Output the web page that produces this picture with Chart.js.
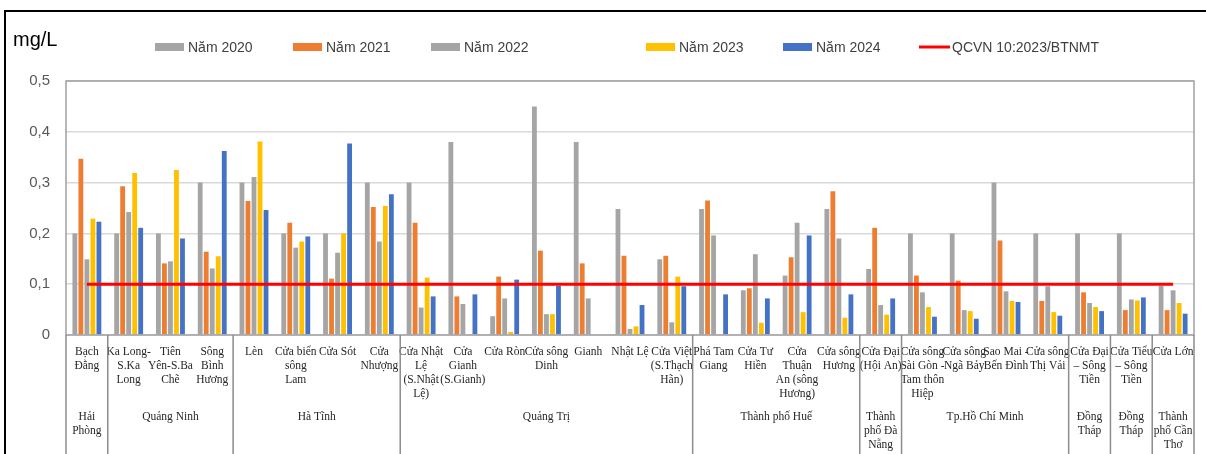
<!DOCTYPE html>
<html>
<head>
<meta charset="utf-8">
<script src="https://cdn.jsdelivr.net/npm/chart.js@4"></script>
<style>
  html, body { margin: 0; padding: 0; background: #fff; }
  #khung { width: 1206px; height: 454px; position: relative; }
</style>
</head>
<body>
<div id="khung"><canvas id="bieuDo" width="1206" height="454"></canvas></div>
<script>
// --- DU LIEU ---
var tramQuanTrac = [
    ['Bạch', 'Đằng'],
    ['Ka Long-', 'S.Ka', 'Long'],
    ['Tiên', 'Yên-S.Ba', 'Chẽ'],
    ['Sông', 'Bình', 'Hương'],
    ['Lèn'],
    ['Cửa biển', 'sông', 'Lam'],
    ['Cửa Sót'],
    ['Cửa', 'Nhượng'],
    ['Cửa Nhật', 'Lệ', '(S.Nhật', 'Lệ)'],
    ['Cửa', 'Gianh', '(S.Gianh)'],
    ['Cửa Ròn'],
    ['Cửa sông', 'Dinh'],
    ['Gianh'],
    ['Nhật Lệ'],
    ['Cửa Việt', '(S.Thạch', 'Hãn)'],
    ['Phá Tam', 'Giang'],
    ['Cửa Tư', 'Hiền'],
    ['Cửa', 'Thuận', 'An (sông', 'Hương)'],
    ['Cửa sông', 'Hương'],
    ['Cửa Đại', '(Hội An)'],
    ['Cửa sông', 'Sài Gòn -', 'Tam thôn', 'Hiệp'],
    ['Cửa sông', 'Ngã Bảy'],
    ['Sao Mai -', 'Bến Đình'],
    ['Cửa sông', 'Thị Vải'],
    ['Cửa Đại', '– Sông', 'Tiền'],
    ['Cửa Tiểu', '– Sông', 'Tiền'],
    ['Cửa Lớn']
];

// tinh/thanh pho va so tram cua moi nhom
var tenTinh = [
    ['Hải', 'Phòng'],
    ['Quảng Ninh'],
    ['Hà Tĩnh'],
    ['Quảng Trị'],
    ['Thành phố Huế'],
    ['Thành', 'phố Đà', 'Nẵng'],
    ['Tp.Hồ Chí Minh'],
    ['Đồng', 'Tháp'],
    ['Đồng', 'Tháp'],
    ['Thành', 'phố Cần', 'Thơ']
];
var soTramMoiTinh = [1, 3, 4, 7, 4, 1, 4, 1, 1, 1];

var tenNam = ['Năm 2020', 'Năm 2021', 'Năm 2022', 'Năm 2023', 'Năm 2024'];
var tenQuyChuan = 'QCVN 10:2023/BTNMT';

var nam2020 = [0.2, 0.2, 0.2, 0.3, 0.3, 0.2, 0.2, 0.3, 0.3, 0.38, 0.037, 0.45, 0.38, 0.248, 0.149,
    0.248, 0.088, 0.117, 0.248, 0.13, 0.2, 0.2, 0.3, 0.2, 0.2, 0.2, 0.097];
var nam2021 = [0.347, 0.293, 0.141, 0.164, 0.264, 0.221, 0.111, 0.252, 0.221, 0.076, 0.115, 0.166, 0.141, 0.156, 0.156,
    0.265, 0.092, 0.153, 0.283, 0.211, 0.117, 0.107, 0.186, 0.067, 0.084, 0.049, 0.049];
var nam2022 = [0.149, 0.242, 0.145, 0.131, 0.311, 0.172, 0.162, 0.184, 0.054, 0.061, 0.072, 0.041, 0.072, 0.012, 0.025,
    0.196, 0.159, 0.221, 0.19, 0.059, 0.084, 0.049, 0.086, 0.096, 0.063, 0.07, 0.088];
var nam2023 = [0.229, 0.319, 0.325, 0.155, 0.381, 0.184, 0.2, 0.254, 0.113, 0, 0.006, 0.041, 0, 0.017, 0.115,
    0, 0.024, 0.045, 0.034, 0.04, 0.055, 0.047, 0.067, 0.045, 0.055, 0.068, 0.063];
var nam2024 = [0.223, 0.211, 0.19, 0.362, 0.246, 0.194, 0.377, 0.277, 0.076, 0.08, 0.109, 0.097, 0, 0.059, 0.096,
    0.08, 0.072, 0.196, 0.08, 0.072, 0.036, 0.032, 0.065, 0.038, 0.047, 0.074, 0.042];
var quyChuan = [0.1, 0.1, 0.1, 0.1, 0.1, 0.1, 0.1, 0.1, 0.1, 0.1, 0.1, 0.1, 0.1, 0.1, 0.1,
    0.1, 0.1, 0.1, 0.1, 0.1, 0.1, 0.1, 0.1, 0.1, 0.1, 0.1, 0.1];

var nhanTrucY = ['0', '0,1', '0,2', '0,3', '0,4', '0,5'];

var mauCot = ['#a5a5a5', '#ed7d31', '#a5a5a5', '#ffc000', '#4472c4'];
var mauQuyChuan = '#ff0000';

// --- PLUGIN: khung, chu thich, nhom tinh ---
var pluginTrangTri = {
    id: 'trangTri',
    afterDraw: function(chart) {
        var ctx = chart.ctx;
        var vung = chart.chartArea;
        var x = chart.scales.x;
        var caoCanvas = chart.height;
        ctx.save();

        // khung vung ve
        ctx.strokeStyle = '#a0a0a0';
        ctx.lineWidth = 1.5;
        ctx.strokeRect(vung.left, vung.top, vung.right - vung.left, vung.bottom - vung.top);

        // duong ngan cach cac tinh
        var ranhGioi = [vung.left];
        var dem = 0;
        soTramMoiTinh.forEach(function(n) {
            dem += n;
            if (dem >= tramQuanTrac.length) {
                ranhGioi.push(vung.right);
            } else {
                ranhGioi.push((x.getPixelForValue(dem - 1) + x.getPixelForValue(dem)) / 2);
            }
        });
        ctx.strokeStyle = '#8c8c8c';
        ctx.lineWidth = 1.5;
        ranhGioi.forEach(function(px) {
            ctx.beginPath();
            ctx.moveTo(px, vung.bottom);
            ctx.lineTo(px, caoCanvas);
            ctx.stroke();
        });

        // ten tinh
        ctx.fillStyle = '#262626';
        ctx.font = '11.5px "Liberation Serif", "Times New Roman", serif';
        ctx.textAlign = 'center';
        ctx.textBaseline = 'middle';
        tenTinh.forEach(function(dong, i) {
            var giua = (ranhGioi[i] + ranhGioi[i + 1]) / 2;
            dong.forEach(function(chu, j) {
                ctx.fillText(chu, giua, 417 + j * 14);
            });
        });

        // khung ngoai mau den
        ctx.strokeStyle = '#000';
        ctx.lineWidth = 2;
        ctx.beginPath();
        ctx.moveTo(5, caoCanvas);
        ctx.lineTo(5, 11);
        ctx.lineTo(chart.width, 11);
        ctx.stroke();

        // don vi
        ctx.fillStyle = '#000';
        ctx.font = '20px "Liberation Sans", Arial, sans-serif';
        ctx.textAlign = 'left';
        ctx.fillText('mg/L', 13, 40);

        // chu thich
        var viTri = [155, 293, 431, 646, 783, 919];
        var yGiua = 47;
        ctx.font = '14px "Liberation Sans", Arial, sans-serif';
        ctx.fillStyle = '#404040';
        chart.data.datasets.forEach(function(ds, i) {
            var px = viTri[i];
            if (ds.type === 'line') {
                ctx.strokeStyle = ds.borderColor;
                ctx.lineWidth = 3;
                ctx.beginPath();
                ctx.moveTo(px, yGiua);
                ctx.lineTo(px + 31, yGiua);
                ctx.stroke();
            } else {
                ctx.fillStyle = ds.backgroundColor;
                ctx.fillRect(px, yGiua - 4, 29, 8);
            }
            ctx.fillStyle = '#404040';
            ctx.fillText(ds.label, px + 33, yGiua + 1);
        });

        ctx.restore();
    }
};

// --- DATASET ---
var duLieuNam = [nam2020, nam2021, nam2022, nam2023, nam2024];
var tapDuLieu = duLieuNam.map(function(mang, i) {
    return {
        type: 'bar',
        label: tenNam[i],
        data: mang,
        backgroundColor: mauCot[i],
        categoryPercentage: 0.72,
        barPercentage: 0.8,
        order: 1
    };
});
tapDuLieu.push({
    type: 'line',
    label: tenQuyChuan,
    data: quyChuan,
    borderColor: mauQuyChuan,
    backgroundColor: mauQuyChuan,
    borderWidth: 3,
    pointRadius: 0,
    fill: false,
    order: 0
});

var bieuDo = new Chart(document.getElementById('bieuDo').getContext('2d'), {
    type: 'bar',
    data: {
        labels: tramQuanTrac,
        datasets: tapDuLieu
    },
    options: {
        responsive: false,
        animation: false,
        layout: { padding: { top: 81, right: 12, bottom: 0, left: 0 } },
        plugins: {
            legend: { display: false },
            tooltip: { enabled: false }
        },
        scales: {
            x: {
                offset: true,
                grid: { display: false, drawTicks: false },
                border: { display: false },
                ticks: {
                    autoSkip: false,
                    maxRotation: 0,
                    minRotation: 0,
                    padding: 10,
                    color: '#262626',
                    font: { family: '"Liberation Serif", "Times New Roman", serif', size: 11.5, lineHeight: 1.22 }
                },
                afterFit: function(scale) { scale.height = 119; }
            },
            y: {
                min: 0,
                max: 0.5,
                grid: { color: '#d9d9d9', lineWidth: 1.5, drawTicks: false },
                border: { display: false },
                ticks: {
                    stepSize: 0.1,
                    padding: 16,
                    color: '#595959',
                    font: { family: '"Liberation Sans", Arial, sans-serif', size: 15 },
                    callback: function(v, i) { return nhanTrucY[i]; }
                },
                afterFit: function(scale) { scale.width = 66; }
            }
        }
    },
    plugins: [pluginTrangTri]
});
</script>
</body>
</html>
